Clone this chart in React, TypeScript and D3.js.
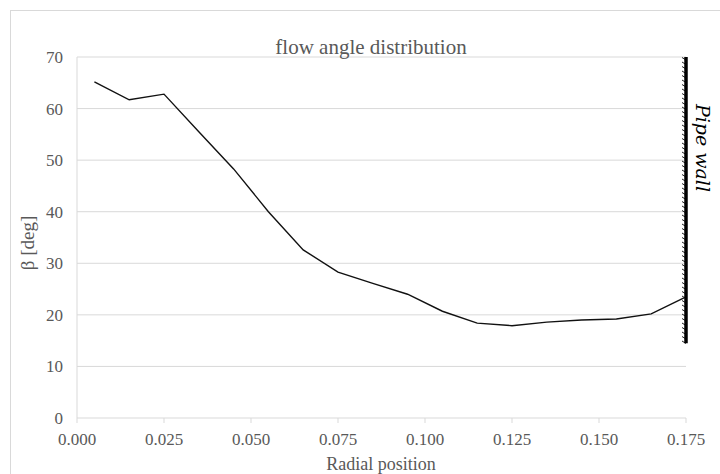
import * as d3 from "d3";

const radial = [0.005, 0.015, 0.025, 0.035, 0.045, 0.055, 0.065, 0.075, 0.085, 0.095, 0.105, 0.115, 0.125, 0.135, 0.145, 0.155, 0.165, 0.175];
const beta = [65.2, 61.7, 62.8, 55.5, 48.3, 40.0, 32.6, 28.3, 26.1, 24.0, 20.7, 18.4, 17.9, 18.6, 19.0, 19.2, 20.2, 23.5];
const xTicks = [0, 0.025, 0.05, 0.075, 0.1, 0.125, 0.15, 0.175];
const yTicks = [0, 10, 20, 30, 40, 50, 60, 70];
const wallTop = 70;
const wallBottom = 14.5;

const W = 720;
const H = 474;
const pad = { top: 57, right: 34, bottom: 56, left: 77 };
const textColor = "#595959";
const font = "'Liberation Serif', 'Times New Roman', serif";

export default function App() {
  const innerW = W - pad.left - pad.right;
  const innerH = H - pad.top - pad.bottom;

  const x = d3.scaleLinear().domain([0, 0.175]).range([pad.left, pad.left + innerW]);
  const y = d3.scaleLinear().domain([0, 70]).range([pad.top + innerH, pad.top]);

  const line = d3
    .line<number>()
    .x((_, i) => x(radial[i]))
    .y((d) => y(d));

  const wallX = x(0.175);
  const hatch = d3.range(y(wallTop) + 2, y(wallBottom), 4.5);

  return (
    <svg
      width={W}
      height={H}
      style={{ position: "absolute", left: 0, top: 0, background: "#fff" }}
      fontFamily={font}
    >
      <rect x={10.5} y={10.5} width={W + 10} height={H + 10} fill="none" stroke="#d9d9d9" />

      {yTicks.map((t) => (
        <g key={t}>
          {t > 0 && (
            <line x1={pad.left} x2={pad.left + innerW} y1={y(t)} y2={y(t)} stroke="#d9d9d9" strokeWidth={1} />
          )}
          <text x={pad.left - 14} y={y(t) + 6} fontSize={17} textAnchor="end" fill={textColor}>
            {t}
          </text>
        </g>
      ))}

      <line x1={pad.left} x2={pad.left} y1={pad.top} y2={pad.top + innerH} stroke="#d9d9d9" />
      <line x1={pad.left} x2={pad.left + innerW} y1={pad.top + innerH} y2={pad.top + innerH} stroke="#d9d9d9" />

      {xTicks.map((t) => (
        <g key={t}>
          <line x1={x(t)} x2={x(t)} y1={pad.top + innerH} y2={pad.top + innerH + 5} stroke="#d9d9d9" />
          <text x={x(t)} y={pad.top + innerH + 27} fontSize={17} textAnchor="middle" fill={textColor}>
            {t.toFixed(3)}
          </text>
        </g>
      ))}

      <path d={line(beta) ?? ""} fill="none" stroke="#111" strokeWidth={1.4} />

      <text x={371} y={54} fontSize={21} textAnchor="middle" fill={textColor}>
        flow angle distribution
      </text>
      <text x={381} y={470} fontSize={18} textAnchor="middle" fill={textColor}>
        Radial position
      </text>
      <text
        transform={`translate(34, 243) rotate(-90)`}
        fontSize={19}
        textAnchor="middle"
        fill={textColor}
      >
        β [deg]
      </text>

      {hatch.map((h, i) => (
        <line key={i} x1={wallX - 4} x2={wallX} y1={h - 1.5} y2={h + 1} stroke="#222" strokeWidth={1} />
      ))}
      <line x1={wallX} x2={wallX} y1={y(wallTop)} y2={y(wallBottom)} stroke="#000" strokeWidth={3.5} />
      <text
        transform={`translate(${wallX + 10}, 148) rotate(90)`}
        fontSize={19}
        fontStyle="italic"
        textAnchor="middle"
        fill="#000"
        fontFamily="'DejaVu Serif', serif"
      >
        Pipe wall
      </text>
    </svg>
  );
}
